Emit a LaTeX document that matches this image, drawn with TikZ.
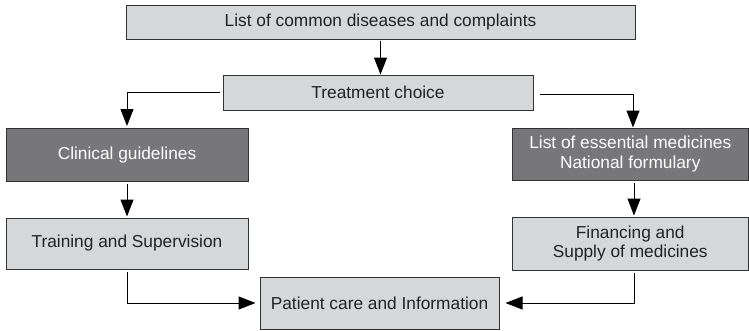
\documentclass[tikz,border=0pt]{standalone}
\usepackage{fontspec}
\setmainfont{Liberation Sans}
\usetikzlibrary{arrows.meta}
\definecolor{lightbox}{HTML}{D6D7D9}
\definecolor{darkbox}{HTML}{77777A}
\definecolor{edgec}{HTML}{333333}
\definecolor{txt}{HTML}{222222}
\begin{document}
\begin{tikzpicture}[x=1pt,y=-1pt,
  box/.style={draw=edgec, line width=1pt, fill=lightbox, text=txt, inner sep=0pt,
    align=center, font=\fontsize{17.3}{19.5}\selectfont},
  darkbx/.style={box, fill=darkbox, text=white},
  conn/.style={line width=1pt, draw=black},
  arr/.style={conn, -{Triangle[length=17pt,width=13pt]}}]
\useasboundingbox (0,0) rectangle (749,330);
\node[box, minimum width=509pt, minimum height=34pt] (diseases) at (380.5,22) {List of common diseases and complaints};
\node[box, minimum width=310pt, minimum height=35pt] (treat) at (378,92.5) {Treatment choice};
\node[darkbx, minimum width=242pt, minimum height=53pt] (clin) at (127,155) {Clinical guidelines};
\node[darkbx, minimum width=236.5pt, minimum height=52pt] (ess) at (630.25,154) {List of essential medicines\\National formulary};
\node[box, minimum width=242pt, minimum height=51pt] (train) at (127,243.5) {Training and Supervision};
\node[box, minimum width=236.5pt, minimum height=53pt] (fin) at (630.25,243.5) {Financing and\\Supply of medicines};
\node[box, minimum width=239pt, minimum height=52pt] (pat) at (379.5,303) {Patient care and Information};

\draw[arr, shorten <=1pt] (diseases.south) -- (diseases.south |- treat.north);
\draw[arr, shorten <=3pt, shorten >=2pt] (treat.west) -| (clin.north);
\draw[arr, shorten <=6pt] ([yshift=-2pt]treat.east) -| ([xshift=2.75pt]ess.north);
\draw[arr, shorten <=2pt, shorten >=1pt] (clin.south) -- (train.north);
\draw[arr, shorten <=2pt, shorten >=1pt] ([xshift=3.75pt]ess.south) -- ([xshift=3.75pt]fin.north);
\draw[arr, shorten <=2pt, shorten >=4pt] (train.south) |- (pat.west);
\draw[arr, shorten <=2pt, shorten >=6pt] ([xshift=3.75pt]fin.south) |- (pat.east);
\end{tikzpicture}
\end{document}
